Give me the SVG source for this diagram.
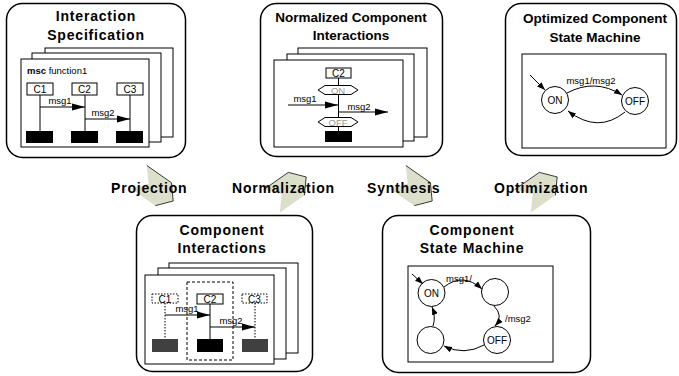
<svg xmlns="http://www.w3.org/2000/svg" width="679" height="376" viewBox="0 0 679 376">
<defs>
<style>
.box{fill:#fff;stroke:#000;stroke-width:1.5}
.fr{fill:#fff;stroke:#000;stroke-width:1}
.ln{fill:none;stroke:#000;stroke-width:1}
.dot{fill:none;stroke:#000;stroke-width:1;stroke-dasharray:1.5 1.5}
.dash{fill:none;stroke:#000;stroke-width:1;stroke-dasharray:3 2}
.t1{font-family:"Liberation Sans",Arial,sans-serif;font-weight:bold;font-size:14px;letter-spacing:0.8px;text-anchor:middle;fill:#000}
.t2{font-family:"Liberation Sans",Arial,sans-serif;font-weight:bold;font-size:13.5px;text-anchor:middle;fill:#000}
.lbl{font-family:"Liberation Sans",Arial,sans-serif;font-weight:bold;font-size:14px;letter-spacing:0.8px;fill:#000}
.s{font-family:"Liberation Sans",Arial,sans-serif;font-size:9.5px;fill:#000}
.sc{font-family:"Liberation Sans",Arial,sans-serif;font-size:10px;fill:#000;text-anchor:middle}
.g{font-family:"Liberation Sans",Arial,sans-serif;font-size:9.5px;fill:#999;text-anchor:middle}
.chev{fill:#dcdfca;stroke:none}
.chevl{fill:none;stroke:#222;stroke-width:0.8}
.blk{fill:#000}
.dg{fill:#404040}
</style>
<marker id="ab" markerUnits="userSpaceOnUse" markerWidth="13" markerHeight="8" viewBox="0 0 13 8" refX="13" refY="4" orient="auto"><path d="M0,0.5 L13,4 L0,7.5 Z" fill="#000"/></marker>
<marker id="as" markerUnits="userSpaceOnUse" markerWidth="8" markerHeight="7" viewBox="0 0 8 7" refX="8" refY="3.5" orient="auto"><path d="M0,0.5 L8,3.5 L0,6.5 Z" fill="#000"/></marker>
<path id="chevshape" d="M-21,-14 L9,-14 L21,0 L9,14 L-21,14 L-9,0 Z"/>
</defs>

<g id="interaction-specification">
<rect class="box" x="6.5" y="3.5" width="179" height="154" rx="16"/>
<text class="t1" x="96" y="21">Interaction</text>
<text class="t1" x="96" y="39.5">Specification</text>
<rect class="fr" x="45" y="48" width="128" height="89"/>
<rect class="fr" x="32" y="53" width="129" height="89"/>
<rect class="fr" x="21" y="59" width="128" height="88"/>
<text class="s" x="27" y="74"><tspan font-weight="bold">msc</tspan> function1</text>
<rect class="fr" x="27" y="83" width="26" height="12"/>
<rect class="fr" x="72" y="83" width="25" height="12"/>
<rect class="fr" x="117" y="83" width="26" height="12"/>
<text class="sc" x="40" y="93">C1</text>
<text class="sc" x="84.5" y="93">C2</text>
<text class="sc" x="130" y="93">C3</text>
<path class="ln" d="M40,95 V131 M85,95 V131 M130,95 V131"/>
<rect class="blk" x="26" y="131" width="27" height="12"/>
<rect class="blk" x="71" y="131" width="27" height="12"/>
<rect class="blk" x="116" y="131" width="27" height="12"/>
<path class="ln" d="M40,107 H85" marker-end="url(#ab)"/>
<path class="ln" d="M85,119 H130" marker-end="url(#ab)"/>
<text class="s" x="60" y="104" text-anchor="middle">msg1</text>
<text class="s" x="103" y="116" text-anchor="middle">msg2</text>
</g>

<g id="normalized-component-interactions">
<rect class="box" x="260.5" y="3.5" width="182" height="153" rx="16"/>
<text class="t2" x="351" y="21.5">Normalized Component</text>
<text class="t2" x="351" y="39.5">Interactions</text>
<rect class="fr" x="298" y="48" width="129" height="89"/>
<rect class="fr" x="287" y="54" width="127" height="87"/>
<rect class="fr" x="274" y="60" width="129" height="87"/>
<rect class="fr" x="326" y="68" width="25" height="10"/>
<text class="sc" x="338.5" y="77">C2</text>
<path class="ln" d="M338.5,78 V131"/>
<polygon class="fr" points="318,90 325,85.5 351,85.5 358,90 351,94.5 325,94.5"/>
<text class="g" x="338" y="93.5">ON</text>
<path class="ln" d="M288,105 H338" marker-end="url(#ab)"/>
<text class="s" x="305" y="102" text-anchor="middle">msg1</text>
<path class="ln" d="M338,112 H388" marker-end="url(#ab)"/>
<text class="s" x="359" y="109.5" text-anchor="middle">msg2</text>
<polygon class="fr" points="318,122 325,117.5 351,117.5 358,122 351,126.5 325,126.5"/>
<text class="g" x="338" y="125.5">OFF</text>
<rect class="blk" x="325" y="131" width="27" height="11"/>
</g>

<g id="optimized-component-state-machine">
<rect class="box" x="505.5" y="3.5" width="171" height="152" rx="16"/>
<text class="t2" x="595" y="23">Optimized Component</text>
<text class="t2" x="595" y="42">State Machine</text>
<rect class="fr" x="522" y="54" width="144" height="94"/>
<circle class="fr" cx="555" cy="100" r="13.5"/>
<circle class="fr" cx="635" cy="101" r="13.5"/>
<text class="sc" x="555" y="103.5">ON</text>
<text class="sc" x="635" y="104.5">OFF</text>
<path class="ln" d="M530,75 L545,90" marker-end="url(#as)"/>
<path class="ln" d="M567,93 Q595,78 622,95" marker-end="url(#as)"/>
<text class="s" x="591" y="84" text-anchor="middle">msg1/msg2</text>
<path class="ln" d="M625,112 Q598,134 568,111" marker-end="url(#as)"/>
</g>

<g id="component-interactions">
<rect class="box" x="136.5" y="215.5" width="176" height="156" rx="16"/>
<text class="t1" x="222" y="235">Component</text>
<text class="t1" x="222" y="253">Interactions</text>
<rect class="fr" x="169" y="263" width="129" height="90"/>
<rect class="fr" x="158" y="268" width="128" height="91"/>
<rect class="fr" x="145" y="275" width="129" height="89"/>
<rect class="dash" x="187" y="282" width="46" height="78"/>
<rect class="dot" x="152" y="294" width="26" height="9"/>
<rect class="fr" x="197" y="294" width="26" height="10"/>
<rect class="dot" x="242" y="294" width="25" height="9"/>
<text class="sc" x="165" y="302.5" fill="#333">C1</text>
<text class="sc" x="210" y="303">C2</text>
<text class="sc" x="254.5" y="302.5" fill="#333">C3</text>
<path class="dot" d="M165,303 V339 M255,303 V339"/>
<path class="ln" d="M210,304 V339"/>
<path class="ln" d="M165,315 H210" marker-end="url(#ab)"/>
<text class="s" x="187" y="312" text-anchor="middle">msg1</text>
<path class="ln" d="M210,327 H255" marker-end="url(#ab)"/>
<text class="s" x="231" y="324" text-anchor="middle">msg2</text>
<rect class="dg" x="152" y="339" width="26" height="13"/>
<rect class="blk" x="197" y="339" width="26" height="13"/>
<rect class="dg" x="242" y="339" width="26" height="13"/>
</g>

<g id="component-state-machine">
<rect class="box" x="382.5" y="215.5" width="208" height="157" rx="16"/>
<text class="t1" x="472" y="235">Component</text>
<text class="t1" x="472" y="253">State Machine</text>
<rect class="fr" x="408" y="266" width="145" height="96"/>
<circle class="fr" cx="431.5" cy="293" r="13.5"/>
<circle class="fr" cx="495" cy="292" r="13.5"/>
<circle class="fr" cx="497" cy="340" r="13.5"/>
<circle class="fr" cx="430.5" cy="340" r="13.5"/>
<text class="sc" x="431.5" y="296.5">ON</text>
<text class="sc" x="497" y="343.5">OFF</text>
<path class="ln" d="M412,274 L423,284" marker-end="url(#as)"/>
<path class="ln" d="M444,287 Q463,272 482,289" marker-end="url(#as)"/>
<text class="s" x="459" y="282" text-anchor="middle">msg1/</text>
<path class="ln" d="M494,306 Q504,316 495,326" marker-end="url(#as)"/>
<text class="s" x="505" y="322">/msg2</text>
<path class="ln" d="M484,345 Q464,356 444,346" marker-end="url(#as)"/>
<path class="ln" d="M433,326 Q436,317 432,307" marker-end="url(#as)"/>
</g>

<g id="connectors">
<g transform="translate(156,189) rotate(35)"><use href="#chevshape" class="chev"/><path class="chevl" d="M-21,-14 L9,-14 L21,0 L9,14"/></g>
<g transform="translate(289,189) rotate(-35)"><use href="#chevshape" class="chev"/><path class="chevl" d="M-21,-14 L9,-14 L21,0 L9,14"/></g>
<g transform="translate(415,189) rotate(35)"><use href="#chevshape" class="chev"/><path class="chevl" d="M-21,-14 L9,-14 L21,0 L9,14"/></g>
<g transform="translate(540,189) rotate(-35)"><use href="#chevshape" class="chev"/><path class="chevl" d="M-21,-14 L9,-14 L21,0 L9,14"/></g>
<text class="lbl" x="111" y="193">Projection</text>
<text class="lbl" x="232" y="193">Normalization</text>
<text class="lbl" x="367" y="193">Synthesis</text>
<text class="lbl" x="494" y="193">Optimization</text>
</g>
</svg>
